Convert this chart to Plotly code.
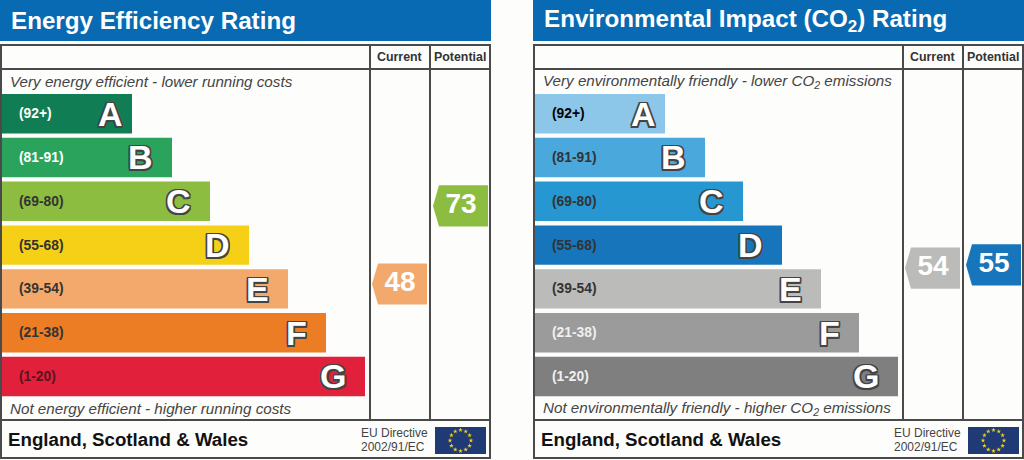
import math
import plotly.graph_objects as go

#Bands are the same on both panels, only the colours change
letters = ["A", "B", "C", "D", "E", "F", "G"]
ranges = ["(92+)", "(81-91)", "(69-80)", "(55-68)", "(39-54)", "(21-38)", "(1-20)"]
bar_lengths = [132, 172, 210, 249, 288, 326, 365]

energy_colors = ["#117d55", "#2aa45d", "#8dbd40", "#f5d016", "#f3a96b", "#ec7d24", "#e1213b"]
energy_label_colors = ["#ffffff", "#ffffff", "#333333", "#333333", "#333333", "#333333", "#5a1420"]
co2_colors = ["#8cc6e8", "#4ba8dc", "#2697d1", "#1776bb", "#bbbbb9", "#9b9b9b", "#7f7f7f"]
co2_label_colors = ["#000000", "#333333", "#333333", "#333333", "#333333", "#f0f0f0", "#f0f0f0"]

energy_current = 48
energy_potential = 73
energy_current_color = "#f3a96b"
energy_potential_color = "#8dbd40"
co2_current = 54
co2_potential = 55
co2_current_color = "#bbbbb9"
co2_potential_color = "#1776bb"

FONT = "Liberation Sans"
LINE = "#4a4a4a"
BLUE = "#076ab2"
BG = "#fdfdfc"
W, H = 1024, 460
PANEL_W = 491
OUTLINE = ",".join(f"{a}px {b}px 0 #444444" for a in (-1.5, 0, 1.5) for b in (-1.5, 0, 1.5))

fig = go.Figure()
shapes = []
notes = []


def hidden(**kw):
    return dict(visible=False, fixedrange=True, **kw)


def add_pointer(xa, ya, rating, right, color):
    #pentagon pointing left, sized in rating units so it sits on the rating axis
    half = 6.6
    xs = [right - 55, right - 49, right, right, right - 49, right - 55]
    ys = [rating, rating + half, rating + half, rating - half, rating - half, rating]
    fig.add_trace(go.Scatter(x=xs, y=ys, xaxis=xa, yaxis=ya, mode="lines", fill="toself",
                             fillcolor=color, line=dict(color=color, width=0),
                             hoverinfo="skip", showlegend=False))
    fig.add_trace(go.Scatter(x=[right - 27], y=[rating], xaxis=xa, yaxis=ya, mode="text",
                             text=[str(rating)], textposition="middle center",
                             textfont=dict(family=FONT, size=28, color="#ffffff", weight="bold"),
                             hoverinfo="skip", showlegend=False))


def add_panel(xa, yp, yb, yr, title, top_note, bottom_note, colors, label_colors,
              current, current_color, potential, potential_color):
    xr = "x" if xa == "x" else xa
    fig.add_trace(go.Bar(x=bar_lengths, y=letters, orientation="h", xaxis=xa, yaxis=yb,
                         marker=dict(color=colors, line=dict(width=0)),
                         hoverinfo="skip", showlegend=False))

    def rect(x0, y0, x1, y1, **kw):
        shapes.append(dict(type="rect", xref=xr, yref=yp, x0=x0, y0=y0, x1=x1, y1=y1, **kw))

    def rule(x0, y0, x1, y1):
        shapes.append(dict(type="line", xref=xr, yref=yp, x0=x0, y0=y0, x1=x1, y1=y1,
                           layer="above", line=dict(color=LINE, width=2)))

    def note(x, y, text, size, color="#333333", anchor="left", **font):
        notes.append(dict(xref=xr, yref=yp, x=x, y=y, text=text, showarrow=False, xanchor=anchor,
                          yanchor="middle", font=dict(family=FONT, size=size, color=color, **font)))

    rect(0, 0, PANEL_W, 41, fillcolor=BLUE, line_width=0, layer="below")
    rule(1, 45, 490, 45)
    rule(1, 69, 490, 69)
    rule(1, 420, 490, 420)
    rule(1, 458, 490, 458)
    rule(1, 44, 1, 459)
    rule(490, 44, 490, 459)
    rule(370, 45, 370, 420)
    rule(430, 45, 430, 420)

    note(9, 20, title, 24.2, "#ffffff", weight="bold")
    note(399, 57, "Current", 12.4, "#333333", "center", weight="bold")
    note(459.5, 57, "Potential", 12.4, "#333333", "center", weight="bold")
    note(8, 81, top_note, 15.2, "#444444", style="italic")
    note(8, 408, bottom_note, 15.2, "#444444", style="italic")
    note(6, 439, "England, Scotland & Wales", 18.7, "#111111", weight="bold")
    note(359, 433, "EU Directive", 12, "#444444")
    note(359, 447, "2002/91/EC", 12, "#444444")

    for letter, band, length, label_color in zip(letters, ranges, bar_lengths, label_colors):
        notes.append(dict(xref=xr, yref=yb, x=17, y=letter, text=band, showarrow=False, xanchor="left",
                          font=dict(family=FONT, size=13.8, color=label_color, weight="bold")))
        inset = 7 if letter == "A" else 17
        notes.append(dict(xref=xr, yref=yb, x=length - inset, y=letter, text=letter, showarrow=False,
                          xanchor="right",
                          font=dict(family=FONT, size=34, color="#ffffff", weight="bold", shadow=OUTLINE)))

    add_pointer(xa, yr, current, 427, current_color)
    add_pointer(xa, yr, potential, 488, potential_color)

    #EU flag
    rect(435, 427, 486, 454, fillcolor="#1f3a75", line_width=0, layer="below")
    star_x = [460.5 + 10.5 * math.cos(math.radians(a)) for a in range(0, 360, 30)]
    star_y = [440.5 + 10.5 * math.sin(math.radians(a)) for a in range(0, 360, 30)]
    fig.add_trace(go.Scatter(x=star_x, y=star_y, xaxis=xa, yaxis=yp, mode="markers",
                             marker=dict(symbol="star", size=3.5, color="#f5d016", line_width=0),
                             hoverinfo="skip", showlegend=False))


add_panel("x", "y", "y3", "y5", "Energy Efficiency Rating",
          "Very energy efficient - lower running costs",
          "Not energy efficient - higher running costs",
          energy_colors, energy_label_colors,
          energy_current, energy_current_color, energy_potential, energy_potential_color)
add_panel("x2", "y2", "y4", "y6", "Environmental Impact (CO<sub>2</sub>) Rating",
          "Very environmentally friendly - lower CO<sub>2</sub> emissions",
          "Not environmentally friendly - higher CO<sub>2</sub> emissions",
          co2_colors, co2_label_colors,
          co2_current, co2_current_color, co2_potential, co2_potential_color)

band_domain = [1 - 398.4 / H, 1 - 91.8 / H]
fig.update_layout(
    width=W, height=H, margin=dict(l=0, r=0, t=0, b=0, pad=0),
    paper_bgcolor=BG, plot_bgcolor="rgba(0,0,0,0)",
    bargap=0.1, showlegend=False, shapes=shapes, annotations=notes,
    xaxis=hidden(domain=[0, PANEL_W / W], range=[0, PANEL_W]),
    xaxis2=hidden(domain=[533 / W, 1], range=[0, PANEL_W]),
    yaxis=hidden(domain=[0, 1], range=[H, 0], anchor="x"),
    yaxis2=hidden(domain=[0, 1], range=[H, 0], anchor="x2"),
    yaxis3=hidden(domain=band_domain, range=[6.5, -0.5], anchor="x", type="category", categoryarray=letters),
    yaxis4=hidden(domain=band_domain, range=[6.5, -0.5], anchor="x2", type="category", categoryarray=letters),
    yaxis5=hidden(domain=[0, 1], range=[-8.4, 139], anchor="x"),
    yaxis6=hidden(domain=[0, 1], range=[-7.5, 139.9], anchor="x2"),
)

#browser default body margin would push the chart 8px in
fig.write_html("out.html", config=dict(displayModeBar=False),
               post_script="document.body.style.margin='0';document.body.style.overflow='hidden';")
